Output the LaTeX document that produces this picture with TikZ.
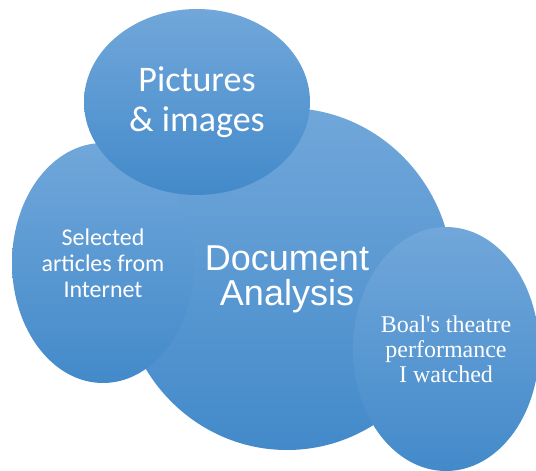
\documentclass[tikz,border=0pt]{standalone}
\usepackage{fontspec}
\setmainfont{Liberation Sans}
\newfontfamily\calibf{Carlito}
\newfontfamily\timesf{Liberation Serif}
\usetikzlibrary{shapes.geometric}
\definecolor{ctop}{RGB}{113,167,218}
\definecolor{cbot}{RGB}{67,138,202}
\begin{document}
\begin{tikzpicture}[x=1pt,y=-1pt,
  bubble/.style={ellipse, inner sep=0pt, draw=none, top color=ctop, bottom color=cbot,
    text=white, align=center}]
\useasboundingbox (0,0) rectangle (536,471);
\node[bubble, minimum width=332pt, minimum height=342pt,
  font=\fontsize{36}{35}\selectfont] (doc) at (287,279) {Document\\Analysis};
\node[bubble, minimum width=186pt, minimum height=244pt,
  font=\timesf\fontsize{24}{25}\selectfont] (boal) at (446,349) {Boal's theatre\\performance\\I watched};
\node[bubble, minimum width=182pt, minimum height=240pt,
  font=\calibf\fontsize{24}{26}\selectfont] (art) at (103,263) {Selected\\articles from\\Internet};
\node[bubble, minimum width=226pt, minimum height=186pt,
  font=\calibf\fontsize{36}{40}\selectfont] (pic) at (197,102) {Pictures\\\& images};
\end{tikzpicture}
\end{document}
